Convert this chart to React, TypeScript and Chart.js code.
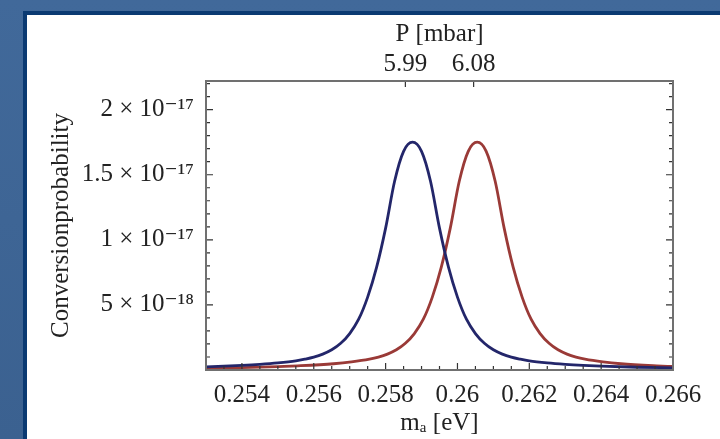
import React, { useEffect, useRef } from 'react';
import { Chart, registerables } from 'chart.js';

Chart.register(...registerables);

// ---- axis ranges ----
const X_MIN = 0.253;
const X_MAX = 0.266;
const Y_MAX = 2.22; // in units of 1e-17

// ---- tick labels ----
const xTickValues = [0.254, 0.256, 0.258, 0.26, 0.262, 0.264, 0.266];
const xTickLabels = ['0.254', '0.256', '0.258', '0.26', '0.262', '0.264', '0.266'];
const yTickValues = [0.5, 1, 1.5, 2];
const yTickLabels = ['5 × 10⁻¹⁸', '1 × 10⁻¹⁷', '1.5 × 10⁻¹⁷', '2 × 10⁻¹⁷'];
const pTickValues = [0.25855, 0.26045];
const pTickLabels = ['5.99', '6.08'];

// ---- series (probability in units of 1e-17) ----
const blueMass = [
  0.253, 0.2535, 0.254, 0.2545, 0.255, 0.2555, 0.25575, 0.256, 0.25625, 0.2565,
  0.25675, 0.257, 0.25725, 0.2575, 0.25775, 0.258, 0.25825, 0.2585, 0.25875, 0.259,
  0.25925, 0.2595, 0.25975, 0.26, 0.26025, 0.2605, 0.26075, 0.261, 0.26125, 0.2615,
  0.26175, 0.262, 0.2625, 0.263, 0.2635, 0.264, 0.265, 0.266,
];
const blueProb = [
  0.024, 0.029, 0.035, 0.043, 0.054, 0.07, 0.083, 0.099, 0.122, 0.155,
  0.205, 0.28, 0.39, 0.56, 0.79, 1.09, 1.45, 1.68, 1.75, 1.68,
  1.45, 1.09, 0.79, 0.56, 0.39, 0.28, 0.205, 0.155, 0.122, 0.099,
  0.083, 0.07, 0.054, 0.043, 0.035, 0.029, 0.021, 0.016,
];
const redMass = [
  0.253, 0.254, 0.255, 0.25555, 0.25655, 0.25705, 0.25755, 0.2578, 0.25805, 0.2583,
  0.25855, 0.2588, 0.25905, 0.2593, 0.25955, 0.2598, 0.26005, 0.2603, 0.26055, 0.2608,
  0.26105, 0.2613, 0.26155, 0.2618, 0.26205, 0.2623, 0.26255, 0.2628, 0.26305, 0.2633,
  0.26355, 0.26405, 0.26455, 0.26555, 0.266,
];
const redProb = [
  0.015, 0.019, 0.026, 0.032, 0.048, 0.062, 0.083, 0.099, 0.122, 0.155,
  0.205, 0.28, 0.39, 0.56, 0.79, 1.09, 1.45, 1.68, 1.75, 1.68,
  1.45, 1.09, 0.79, 0.56, 0.39, 0.28, 0.205, 0.155, 0.122, 0.099,
  0.083, 0.062, 0.048, 0.032, 0.027,
];

const FONT_FAMILY = '"Liberation Serif", "Times New Roman", "DejaVu Serif", serif';
const TEXT_COLOR = '#222';

const framePlugin = {
  id: 'frameTicks',
  afterDatasetsDraw(chart: any) {
    const { ctx, chartArea: a, scales } = chart;
    const xs = scales.x;
    const ys = scales.y;
    ctx.save();
    ctx.strokeStyle = '#333';
    ctx.lineWidth = 1.2;
    for (let i = 0; i <= 26; i++) {
      const v = X_MIN + i * 0.0005;
      const px = xs.getPixelForValue(v);
      const major = xTickValues.some((t) => Math.abs(t - v) < 1e-7);
      const len = major ? 7 : 4;
      ctx.beginPath();
      ctx.moveTo(px, a.bottom);
      ctx.lineTo(px, a.bottom - len);
      ctx.stroke();
    }
    for (let i = 1; i <= 22; i++) {
      const v = i * 0.1;
      const py = ys.getPixelForValue(v);
      const len = i % 5 === 0 ? 7 : 4;
      ctx.beginPath();
      ctx.moveTo(a.left, py);
      ctx.lineTo(a.left + len, py);
      ctx.moveTo(a.right, py);
      ctx.lineTo(a.right - len, py);
      ctx.stroke();
    }
    pTickValues.forEach((v) => {
      const px = xs.getPixelForValue(v);
      ctx.beginPath();
      ctx.moveTo(px, a.top);
      ctx.lineTo(px, a.top + 6);
      ctx.stroke();
    });
    ctx.strokeStyle = '#707070';
    ctx.lineWidth = 2;
    ctx.strokeRect(a.left, a.top, a.right - a.left, a.bottom - a.top);
    ctx.restore();
  },
};

export default function App() {
  const ref = useRef<HTMLCanvasElement>(null);

  useEffect(() => {
    const font = { family: FONT_FAMILY, size: 25 };
    const chart = new Chart(ref.current as HTMLCanvasElement, {
      type: 'line',
      data: {
        datasets: [
          {
            data: blueMass.map((m, i) => ({ x: m, y: blueProb[i] })),
            borderColor: '#23266a',
            borderWidth: 2.8,
            pointRadius: 0,
            cubicInterpolationMode: 'monotone',
            fill: false,
          },
          {
            data: redMass.map((m, i) => ({ x: m, y: redProb[i] })),
            borderColor: '#9a3a37',
            borderWidth: 2.8,
            pointRadius: 0,
            cubicInterpolationMode: 'monotone',
            fill: false,
          },
        ],
      },
      options: {
        responsive: false,
        devicePixelRatio: 1,
        animation: false,
        layout: { padding: { top: 0, left: 0, right: 47, bottom: 0 } },
        plugins: { legend: { display: false }, tooltip: { enabled: false } },
        scales: {
          x: {
            type: 'linear',
            position: 'bottom',
            min: X_MIN,
            max: X_MAX,
            grid: { display: false, drawTicks: false },
            border: { display: false },
            afterBuildTicks: (s: any) => {
              s.ticks = xTickValues.map((v) => ({ value: v }));
            },
            afterFit: (s: any) => {
              s.height = 69;
            },
            ticks: {
              autoSkip: false,
              maxRotation: 0,
              minRotation: 0,
              padding: 10,
              color: TEXT_COLOR,
              font,
              callback: (_v: any, i: number) => xTickLabels[i],
            },
            title: {
              display: true,
              text: 'mₐ [eV]',
              color: TEXT_COLOR,
              font,
              padding: { top: 0, bottom: 1 },
            },
          },
          x2: {
            type: 'linear',
            axis: 'x',
            position: 'top',
            min: X_MIN,
            max: X_MAX,
            grid: { display: false, drawTicks: false },
            border: { display: false },
            afterBuildTicks: (s: any) => {
              s.ticks = pTickValues.map((v) => ({ value: v }));
            },
            afterFit: (s: any) => {
              s.height = 81;
            },
            ticks: {
              autoSkip: false,
              maxRotation: 0,
              minRotation: 0,
              padding: 2,
              color: TEXT_COLOR,
              font,
              callback: (_v: any, i: number) => pTickLabels[i],
            },
            title: {
              display: true,
              text: 'P [mbar]',
              color: TEXT_COLOR,
              font,
              padding: { top: 19, bottom: 0 },
            },
          },
          y: {
            type: 'linear',
            position: 'left',
            min: 0,
            max: Y_MAX,
            grid: { display: false, drawTicks: false },
            border: { display: false },
            afterBuildTicks: (s: any) => {
              s.ticks = yTickValues.map((v) => ({ value: v }));
            },
            afterFit: (s: any) => {
              s.width = 206;
            },
            ticks: {
              autoSkip: false,
              padding: 12,
              color: TEXT_COLOR,
              font,
              callback: (_v: any, i: number) => yTickLabels[i],
            },
            title: {
              display: true,
              text: 'Conversionprobability',
              color: TEXT_COLOR,
              font,
              padding: { top: 46, bottom: 0 },
            },
          },
        },
      } as any,
      plugins: [framePlugin],
    });
    return () => chart.destroy();
  }, []);

  return (
    <div
      style={{
        position: 'fixed',
        left: 0,
        top: 0,
        width: 720,
        height: 439,
        overflow: 'hidden',
        background: 'linear-gradient(180deg, #41699a 0%, #3b6190 100%)',
      }}
    >
      <div
        style={{
          position: 'absolute',
          left: 23,
          top: 11,
          right: 0,
          bottom: 0,
          background: '#ffffff',
          borderLeft: '4px solid #0b3a72',
          borderTop: '4px solid #0b3a72',
        }}
      />
      <canvas
        ref={ref}
        width={720}
        height={439}
        style={{ position: 'absolute', left: 0, top: 0, width: 720, height: 439 }}
      />
    </div>
  );
}
